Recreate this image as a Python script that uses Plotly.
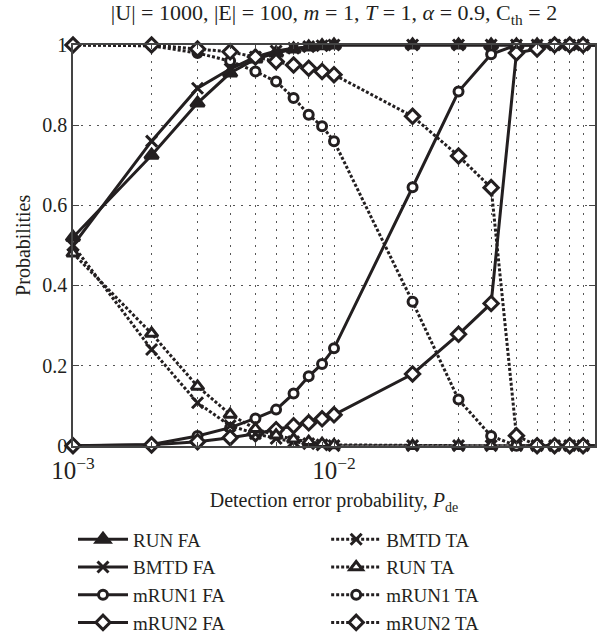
import plotly.graph_objects as go

# Detection error probability grid
pde = [0.001, 0.002, 0.003, 0.004, 0.005, 0.006, 0.007, 0.008, 0.009, 0.01,
       0.02, 0.03, 0.04, 0.05, 0.06, 0.07, 0.08, 0.09, 0.1]

# False-alarm (FA) probabilities
run_fa = [0.52, 0.725, 0.855, 0.93, 0.965, 0.98, 0.99, 0.995, 0.998, 1,
          1, 1, 1, 1, 1, 1, 1, 1, 1]
bmtd_fa = [0.50, 0.76, 0.892, 0.94, 0.97, 0.985, 0.992, 0.996, 0.998, 1,
           1, 1, 1, 1, 1, 1, 1, 1, 1]
mrun1_fa = [0, 0.003, 0.024, 0.045, 0.068, 0.09, 0.13, 0.173, 0.204, 0.243,
            0.645, 0.884, 0.977, 1, 1, 1, 1, 1, 1]
mrun2_fa = [0, 0.002, 0.01, 0.02, 0.03, 0.04, 0.05, 0.057, 0.067, 0.077,
            0.179, 0.278, 0.355, 0.98, 0.99, 1, 1, 1, 1]

# True-alarm (TA) probabilities
bmtd_ta = [0.50, 0.24, 0.107, 0.05, 0.03, 0.018, 0.01, 0.005, 0.002, 0,
           0, 0, 0, 0, 0, 0, 0, 0, 0]
run_ta = [0.48, 0.28, 0.148, 0.078, 0.042, 0.026, 0.016, 0.01, 0.005, 0.002,
          0, 0, 0, 0, 0, 0, 0, 0, 0]
mrun1_ta = [1, 0.998, 0.98, 0.96, 0.934, 0.909, 0.868, 0.826, 0.797, 0.76,
            0.359, 0.115, 0.024, 0, 0, 0, 0, 0, 0]
mrun2_ta = [1, 1, 0.99, 0.983, 0.97, 0.959, 0.95, 0.942, 0.934, 0.926,
            0.822, 0.723, 0.644, 0.025, 0, 0, 0, 0, 0]

FONT = "Liberation Serif"
INK = "#231f20"
AXIS = "#444444"
DOT = "3px,2px"

fa_series = [
    ("RUN FA", run_fa, "triangle-up", INK, 12),
    ("BMTD FA", bmtd_fa, "x-thin", INK, 11),
    ("mRUN1 FA", mrun1_fa, "circle", "white", 9),
    ("mRUN2 FA", mrun2_fa, "diamond", "white", 11),
]
ta_series = [
    ("BMTD TA", bmtd_ta, "x-thin", INK, 11),
    ("RUN TA", run_ta, "triangle-up", "white", 11),
    ("mRUN1 TA", mrun1_ta, "circle", "white", 9),
    ("mRUN2 TA", mrun2_ta, "diamond", "white", 11),
]

fig = go.Figure()

for name, y, sym, fill, size in fa_series:
    fig.add_trace(go.Scatter(
        x=pde, y=y, name=name, mode="lines+markers", cliponaxis=False,
        line=dict(color=INK, width=3),
        marker=dict(symbol=sym, size=size, color=fill,
                    line=dict(color=INK, width=3)),
        legend="legend", legendgroup=name,
    ))

for name, y, sym, fill, size in ta_series:
    fig.add_trace(go.Scatter(
        x=pde, y=y, name=name, mode="lines+markers", cliponaxis=False,
        line=dict(color=INK, width=3, dash=DOT),
        marker=dict(symbol=sym, size=size, color=fill,
                    line=dict(color=INK, width=3)),
        legend="legend2", legendgroup=name,
    ))

grid = dict(gridcolor="#555555", gridwidth=1, griddash="2px,6px")

legend_common = dict(
    yref="container", y=0.183, yanchor="top", xanchor="left",
    orientation="v", traceorder="grouped", tracegroupgap=0,
    font=dict(family=FONT, size=19, color=INK),
    bgcolor="rgba(0,0,0,0)", itemwidth=50,
)

fig.update_layout(
    width=612, height=637,
    margin=dict(l=73, r=17, t=45, b=189),
    paper_bgcolor="white", plot_bgcolor="white",
    font=dict(family=FONT, size=20, color=INK),
    title=dict(
        text="|U| = 1000, |E| = 100, <i>m</i> = 1, <i>T</i> = 1, "
             "<i>α</i> = 0.9, C<sub>th</sub> = 2",
        x=0.5, xref="paper", xanchor="center",
        y=0.992, yref="container", yanchor="top", pad=dict(t=0),
        font=dict(family=FONT, size=22, color=INK),
    ),
    xaxis=dict(
        type="log", range=[-3, -1], dtick=1, exponentformat="power",
        showline=True, linecolor=AXIS, linewidth=1.5, mirror="ticks",
        ticks="inside", ticklen=6, tickcolor=AXIS,
        showgrid=True, **grid,
        minor=dict(dtick="D1", showgrid=True, ticks="inside", ticklen=4,
                   tickcolor=AXIS, **grid),
        zeroline=False, ticklabelstandoff=3,
        title=dict(text="Detection error probability, <i>P</i><sub>de</sub>",
                   standoff=10, font=dict(size=20)),
        tickfont=dict(size=20),
    ),
    yaxis=dict(
        range=[0, 1], dtick=0.2,
        showline=True, linecolor=AXIS, linewidth=1.5, mirror="ticks",
        ticks="inside", ticklen=6, tickcolor=AXIS,
        showgrid=True, **grid, zeroline=False,
        title=dict(text="Probabilities", standoff=6, font=dict(size=20)),
        tickfont=dict(size=20),
    ),
    legend=dict(x=0.0, **legend_common),
    legend2=dict(x=0.485, **legend_common),
)

fig.write_html("out.html")
